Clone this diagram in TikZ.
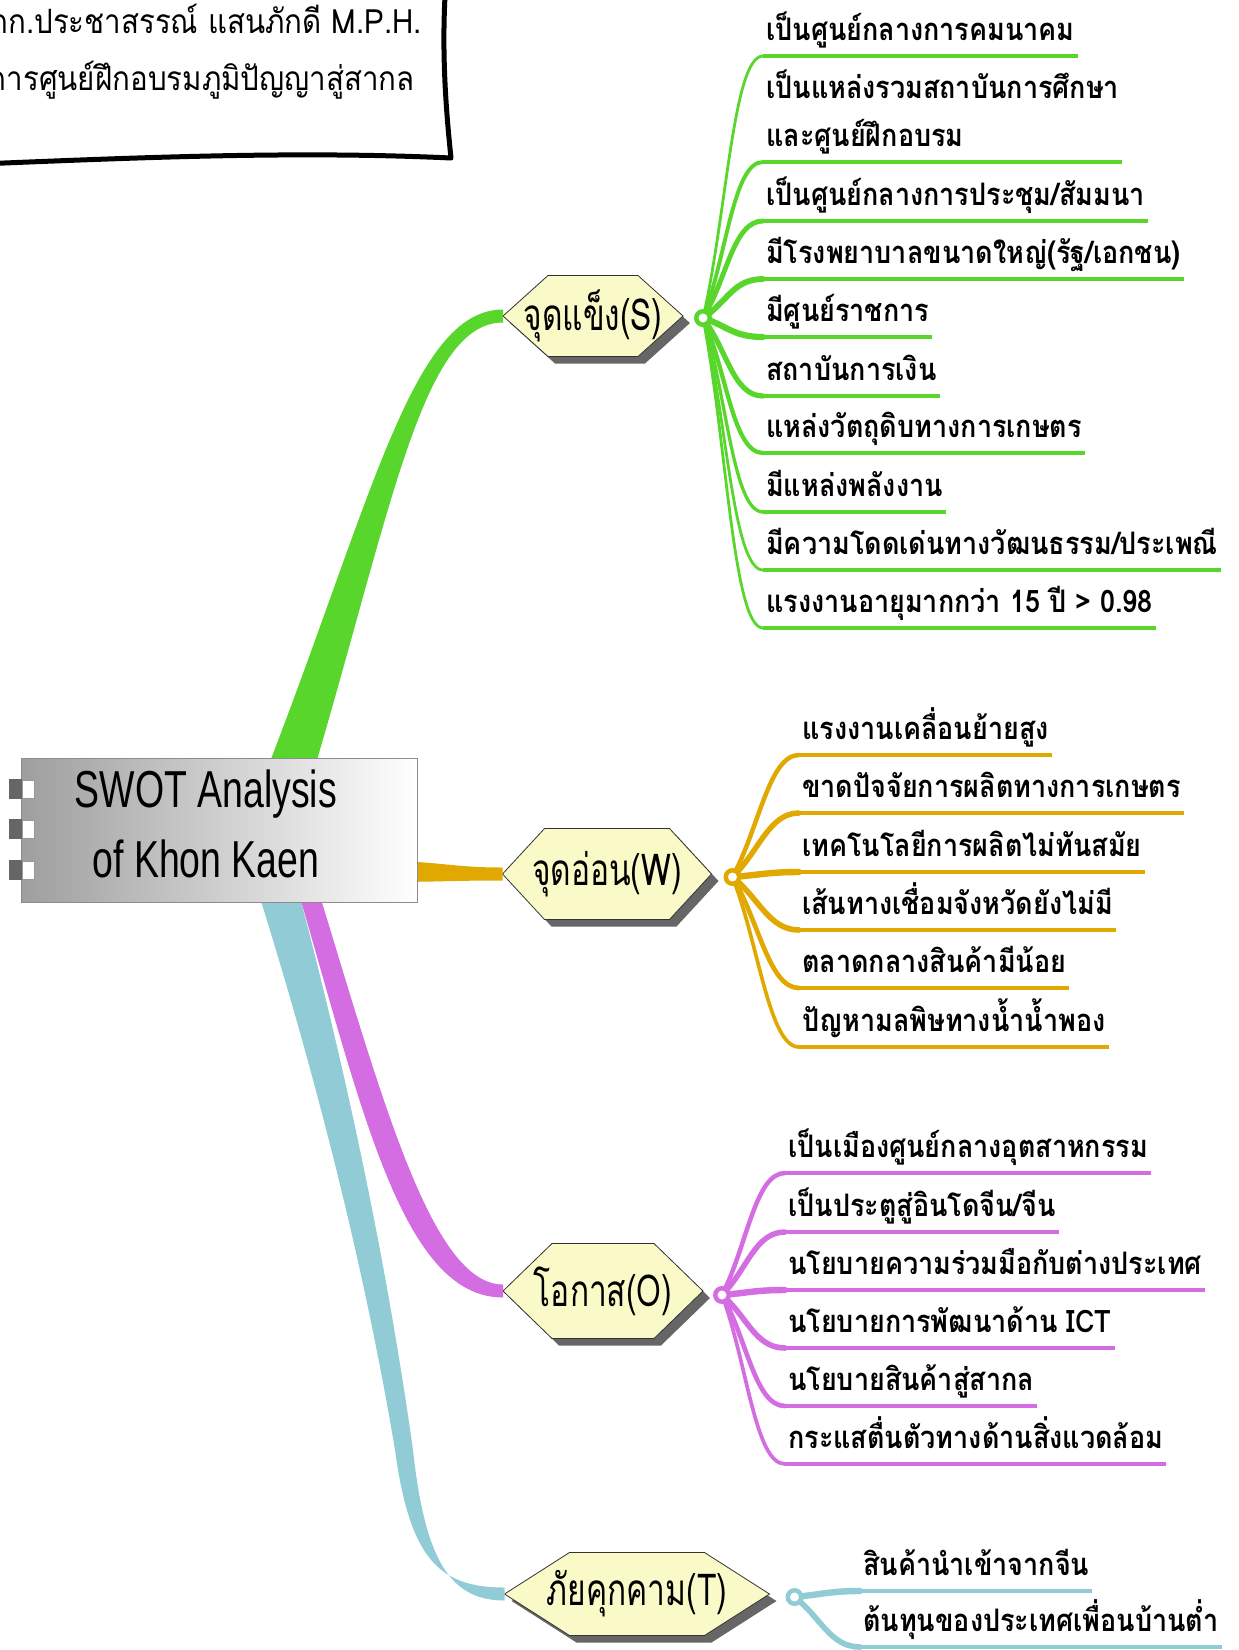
\documentclass[tikz,border=0pt]{standalone}
\usepackage{fontspec}
\usepackage{tikz}
\usetikzlibrary{calc,backgrounds}
\newfontfamily\thaifont[Script=Thai,FakeStretch=0.87]{Loma}
\newfontfamily\notefont[Script=Thai,FakeStretch=0.88]{Loma}
\newfontfamily\hexfont[Script=Thai,FakeStretch=0.72]{Loma}
\newfontfamily\titlefont[FakeStretch=0.72]{Liberation Sans}

\definecolor{sgreen}{RGB}{88,214,44}
\definecolor{wgold}{RGB}{224,168,0}
\definecolor{opink}{RGB}{212,108,226}
\definecolor{tcyan}{RGB}{145,204,214}
\definecolor{hexfill}{RGB}{250,249,200}

\tikzset{
  swotbox/.style={draw=black!45, left color=black!38, right color=white,
    minimum width=396, minimum height=144, inner sep=0pt},
  swottext/.style={inner sep=0pt, align=center, font=\titlefont\fontsize{52}{70}\selectfont},
  hextext/.style={inner sep=0pt, font=\hexfont\fontsize{44}{44}\selectfont},
  item/.style={anchor=south west, inner xsep=3pt, inner ysep=0pt, text depth=15pt,
    align=left, font=\thaifont\bfseries\fontsize{31}{48}\selectfont},
  note/.style={inner sep=0pt, font=\notefont\fontsize{33.5}{40}\selectfont},
  twig/.style={line cap=round},
  bar/.style={line width=4.5pt},
  hub/.style={circle, inner sep=0pt, minimum size=18pt,
    path picture={\fill[white] (path picture bounding box.center) circle (4.5pt);}}
}

% hexagon round a named node: name, half width, half height, tip length
\newcommand{\hexround}[4]{%
  \fill[black!60] ($(#1)+(-#2+7,7)$) -- ($(#1)+(-#2+#4+7,-#3+7)$) -- ($(#1)+(#2-#4+7,-#3+7)$)
    -- ($(#1)+(#2+7,7)$) -- ($(#1)+(#2-#4+7,#3+7)$) -- ($(#1)+(-#2+#4+7,#3+7)$) -- cycle;
  \filldraw[fill=hexfill, draw=black!80, line width=0.8pt] ($(#1)+(-#2,0)$) -- ($(#1)+(-#2+#4,-#3)$)
    -- ($(#1)+(#2-#4,-#3)$) -- ($(#1)+(#2,0)$) -- ($(#1)+(#2-#4,#3)$) -- ($(#1)+(-#2+#4,#3)$) -- cycle;
  \coordinate (#1-w) at ($(#1)+(-#2,0)$);
  \coordinate (#1-e) at ($(#1)+(#2,0)$);
}

\begin{document}
\begin{tikzpicture}[x=1pt,y=-1pt]
\useasboundingbox (0,0) rectangle (1239,1650);
\clip (0,0) rectangle (1239,1650);

% note in the corner
\draw[line width=5pt, line join=round, fill=white] (-20,-20) -- (446,-20)
  .. controls (441,50) and (446,110) .. (451,158)
  .. controls (300,151) and (150,157) .. (-20,164) -- cycle;
\node[note, anchor=base east] (who) at (422,33) {ภก.ประชาสรรณ์ แสนภักดี M.P.H.};
\node[note, anchor=base east] (post) at (415,90) {ผู้อำนวยการศูนย์ฝึกอบรมภูมิปัญญาสู่สากล};

% central topic
\node[swotbox] (swot) at (219,830) {};
\node[swottext] (swotlbl) at ($(swot)+(-13,-6)$) {SWOT Analysis\\of Khon Kaen};
\foreach \dy in {-41,-1,40} {
  \fill[black!60] ($(swot.west)+(-12,\dy-10)$) rectangle ($(swot.west)+(1,\dy+10)$);
  \filldraw[fill=white, draw=black!40] ($(swot.west)+(1,\dy-9)$) rectangle ($(swot.west)+(13,\dy+9)$);
}

% S W O T
\node[hextext] (s) at (593,316) {จุดแข็ง(S)};
\node[hextext] (w) at (607,874) {จุดอ่อน(W)};
\node[hextext] (o) at (603,1291) {โอกาส(O)};
\node[hextext] (t) at (637,1594) {ภัยคุกคาม(T)};

\begin{pgfonlayer}{background}
\hexround{s}{90}{40.5}{45}
\hexround{w}{104.5}{45.5}{42}
\hexround{o}{100}{47.5}{49}
\hexround{t}{132.5}{41.5}{65}
\end{pgfonlayer}

% main branches
\begin{pgfonlayer}{background}
\fill[sgreen] (255,800) .. controls (370,510) and (410,309.5) .. ($(s-w)+(0,-6.5)$)
  -- ($(s-w)+(0,6.5)$) .. controls (420,322.5) and (390,520) .. (305,800) -- cycle;
\fill[wgold] (380,861) .. controls (440,861) and (450,867.5) .. ($(w-w)+(0,-6.5)$)
  -- ($(w-w)+(0,6.5)$) .. controls (450,880.5) and (440,882) .. (380,882) -- cycle;
\fill[tcyan] (248,860) .. controls (325,1100) and (370,1300) .. (395,1450)
  .. controls (410,1560) and (440,1587.5) .. ($(t-w)+(0,-6.5)$)
  -- ($(t-w)+(0,6.5)$) .. controls (450,1600.5) and (425,1560) .. (413,1450)
  .. controls (392,1300) and (355,1100) .. (290,860) -- cycle;
\fill[opink] (292,870) .. controls (360,1100) and (400,1297.5) .. ($(o-w)+(0,6.5)$)
  -- ($(o-w)+(0,-6.5)$) .. controls (430,1284.5) and (380,1090) .. (312,870) -- cycle;
\end{pgfonlayer}

\coordinate (hs) at ($(s-e)+(20,2)$);
\coordinate (hw) at ($(w-e)+(21,3)$);
\coordinate (ho) at ($(o-e)+(19,4)$);
\coordinate (ht) at ($(t-e)+(25,3)$);

% strengths
\foreach \y/\txt [count=\i] in {56/{เป็นศูนย์กลางการคมนาคม},
    162/{เป็นแหล่งรวมสถาบันการศึกษา\\และศูนย์ฝึกอบรม},
    221/{เป็นศูนย์กลางการประชุม/สัมมนา},
    279/{มีโรงพยาบาลขนาดใหญ่(รัฐ/เอกชน)},
    337/{มีศูนย์ราชการ},
    396/{สถาบันการเงิน},
    453/{แหล่งวัตถุดิบทางการเกษตร},
    512/{มีแหล่งพลังงาน},
    570/{มีความโดดเด่นทางวัฒนธรรม/ประเพณี},
    628/{แรงงานอายุมากกว่า 15 ปี > 0.98}} {
  \pgfmathsetmacro\lw{max(2.8,6.5-abs(\y-318)/60)}
  \node[item] (s\i) at (763,\y) {\txt};
  \draw[twig, sgreen, line width=\lw pt] (hs) .. controls ($(hs)!0.4!(s\i.south west)$) and ($(s\i.south west)+(-30,0)$) .. (s\i.south west);
  \draw[bar, sgreen] (s\i.south west) -- (s\i.south east);
}

% weaknesses
\foreach \y/\txt [count=\i] in {755/{แรงงานเคลื่อนย้ายสูง},
    813/{ขาดปัจจัยการผลิตทางการเกษตร},
    872/{เทคโนโลยีการผลิตไม่ทันสมัย},
    930/{เส้นทางเชื่อมจังหวัดยังไม่มี},
    988/{ตลาดกลางสินค้ามีน้อย},
    1047/{ปัญหามลพิษทางน้ำน้ำพอง}} {
  \pgfmathsetmacro\lw{max(2.8,6.5-abs(\y-877)/60)}
  \node[item] (w\i) at (799,\y) {\txt};
  \draw[twig, wgold, line width=\lw pt] (hw) .. controls ($(hw)!0.4!(w\i.south west)$) and ($(w\i.south west)+(-30,0)$) .. (w\i.south west);
  \draw[bar, wgold] (w\i.south west) -- (w\i.south east);
}

% opportunities
\foreach \y/\txt [count=\i] in {1173/{เป็นเมืองศูนย์กลางอุตสาหกรรม},
    1232/{เป็นประตูสู่อินโดจีน/จีน},
    1290/{นโยบายความร่วมมือกับต่างประเทศ},
    1348/{นโยบายการพัฒนาด้าน ICT},
    1406/{นโยบายสินค้าสู่สากล},
    1464/{กระแสตื่นตัวทางด้านสิ่งแวดล้อม}} {
  \pgfmathsetmacro\lw{max(2.8,6.5-abs(\y-1295)/60)}
  \node[item] (o\i) at (785,\y) {\txt};
  \draw[twig, opink, line width=\lw pt] (ho) .. controls ($(ho)!0.4!(o\i.south west)$) and ($(o\i.south west)+(-30,0)$) .. (o\i.south west);
  \draw[bar, opink] (o\i.south west) -- (o\i.south east);
}

% threats
\foreach \y/\txt [count=\i] in {1591/{สินค้านำเข้าจากจีน},
    1647/{ต้นทุนของประเทศเพื่อนบ้านต่ำ}} {
  \pgfmathsetmacro\lw{max(2.8,6.5-abs(\y-1597)/60)}
  \node[item] (t\i) at (860,\y) {\txt};
  \draw[twig, tcyan, line width=\lw pt] (ht) .. controls ($(ht)!0.4!(t\i.south west)$) and ($(t\i.south west)+(-30,0)$) .. (t\i.south west);
  \draw[bar, tcyan] (t\i.south west) -- (t\i.south east);
}

\node[hub, fill=sgreen] at (hs) {};
\node[hub, fill=wgold] at (hw) {};
\node[hub, fill=opink] at (ho) {};
\node[hub, fill=tcyan] at (ht) {};
\end{tikzpicture}
\end{document}
